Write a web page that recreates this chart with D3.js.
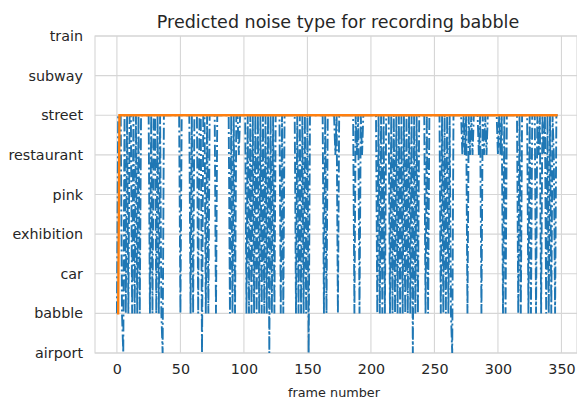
<!DOCTYPE html>
<html>
<head>
<meta charset="utf-8">
<script src="https://cdn.jsdelivr.net/npm/d3@7"></script>
<style>
  html, body { margin: 0; padding: 0; background: #fff; }
  svg { display: block; }
  text { font-family: "DejaVu Sans", sans-serif; fill: #262626; }
</style>
</head>
<body>
<svg id="chart" width="577" height="401"></svg>
<script>
// ---- data ----
const categories = ["airport", "babble", "car", "exhibition", "pink", "restaurant", "street", "subway", "train"];
const xTicks = [0, 50, 100, 150, 200, 250, 300, 350];
const title = "Predicted noise type for recording babble";
const xLabel = "frame number";

// predicted category index (into categories) for each frame 0..347
const predicted = [
  1,6,6,6,1,0,6,1,6,1,
  6,6,1,6,1,6,1,6,1,6,
  6,6,6,6,6,6,1,6,1,6,
  6,1,6,1,6,1,0,6,6,6,
  6,6,6,6,6,6,6,6,6,6,
  1,6,6,6,6,6,6,6,1,6,
  1,6,6,6,1,6,6,0,6,6,
  1,6,1,6,6,6,6,6,1,6,
  6,6,6,6,6,6,6,6,6,1,
  6,1,6,1,6,6,5,6,6,6,
  6,6,1,6,1,6,1,6,1,6,
  1,6,1,6,1,6,1,6,1,6,
  0,6,1,6,1,6,6,6,6,1,
  6,1,6,6,6,6,6,6,6,6,
  6,1,6,1,6,1,6,1,6,1,
  6,0,6,6,6,6,6,6,6,6,
  6,6,6,1,6,1,6,6,6,6,
  6,6,5,6,1,6,6,6,6,6,
  6,6,6,6,6,6,6,1,6,5,
  6,1,6,5,6,6,6,6,6,6,
  6,6,6,6,6,1,6,1,6,1,
  6,1,6,6,6,1,6,1,6,1,
  6,1,6,1,6,1,6,1,6,1,
  6,1,6,0,6,1,6,1,6,6,
  6,6,6,1,6,1,6,6,6,6,
  6,6,6,6,6,1,6,1,6,1,
  6,1,6,1,0,6,6,6,6,6,
  6,6,5,6,5,6,1,6,5,6,
  5,6,6,6,6,5,6,1,6,5,
  6,5,6,6,6,6,6,6,6,6,
  5,6,5,6,1,6,1,6,6,6,
  6,6,6,6,6,6,1,6,1,6,
  6,6,6,6,1,6,1,6,6,6,
  1,6,5,6,1,6,5,6,1,6,
  1,6,1,6,5,1,6,6
];

// smoothed decision: frames where it is defined and its label
const smoothFrames = [0, 1, 2, 347];
const smoothLabels = ["babble", "babble", "street", "street"];

// ---- drawing ----
(function () {
const svg = d3.select("#chart");
const pLeft = 95, pRight = 577, pTop = 36, pBottom = 353;

const x = d3.scaleLinear().domain([-17.25, 362.25]).range([pLeft, pRight]);
const y = d3.scalePoint().domain(categories).range([pBottom, pTop]);

const gridColor = "#d6d6d6";
const g = svg.append("g");

g.selectAll("line.vgrid").data(xTicks).enter().append("line")
  .attr("x1", d => x(d)).attr("x2", d => x(d))
  .attr("y1", pTop).attr("y2", pBottom)
  .attr("stroke", gridColor).attr("stroke-width", 1.1);
g.selectAll("line.hgrid").data(categories).enter().append("line")
  .attr("x1", pLeft).attr("x2", pRight)
  .attr("y1", d => y(d)).attr("y2", d => y(d))
  .attr("stroke", gridColor).attr("stroke-width", 1.1);
g.append("rect").attr("x", pLeft).attr("y", pTop)
  .attr("width", pRight - pLeft).attr("height", pBottom - pTop)
  .attr("fill", "none").attr("stroke", gridColor).attr("stroke-width", 1.1);

svg.append("clipPath").attr("id", "clip").append("rect")
  .attr("x", pLeft).attr("y", pTop - 3).attr("width", pRight - pLeft).attr("height", pBottom - pTop + 6);

const line = d3.line().x(d => x(d[0])).y(d => y(d[1]));

const bluePts = predicted.map((c, i) => [i, categories[c]]);
svg.append("path").datum(bluePts)
  .attr("clip-path", "url(#clip)")
  .attr("d", line)
  .attr("fill", "none")
  .attr("stroke", "#1f77b4")
  .attr("stroke-width", 1.9)
  .attr("stroke-dasharray", "12,3,2,3");

const orangePts = smoothFrames.map((f, i) => [f, smoothLabels[i]]);
svg.append("path").datum(orangePts)
  .attr("d", line)
  .attr("fill", "none")
  .attr("stroke", "#ff7f0e")
  .attr("stroke-width", 2.4);

const xAxis = svg.append("g").attr("transform", `translate(0,${pBottom})`)
  .call(d3.axisBottom(x).tickValues(xTicks).tickSize(0).tickPadding(11));
xAxis.select(".domain").remove();
xAxis.selectAll("text").attr("font-size", "14.3px").attr("font-family", "DejaVu Sans").attr("fill", "#262626");

const yAxis = svg.append("g").attr("transform", `translate(${pLeft},0)`)
  .call(d3.axisLeft(y).tickSize(0).tickPadding(12));
yAxis.select(".domain").remove();
yAxis.selectAll("text").attr("font-size", "14.3px").attr("font-family", "DejaVu Sans").attr("fill", "#262626");

svg.append("text").attr("x", 338).attr("y", 28)
  .attr("text-anchor", "middle").attr("font-size", "17.5px").text(title);
svg.append("text").attr("x", 334).attr("y", 397)
  .attr("text-anchor", "middle").attr("font-size", "12.8px").text(xLabel);
})();
</script>
</body>
</html>
